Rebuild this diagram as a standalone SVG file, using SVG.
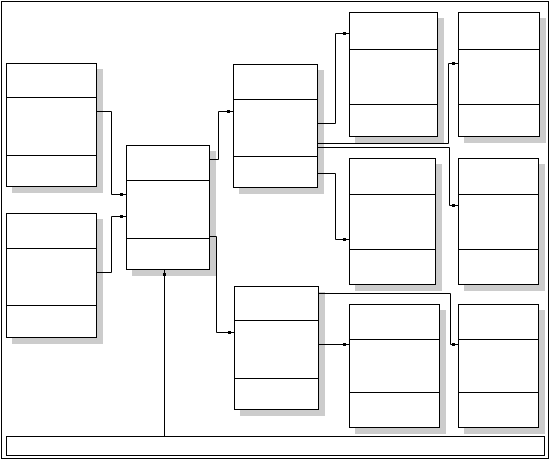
<svg xmlns="http://www.w3.org/2000/svg" width="549" height="459" viewBox="0 0 549 459">
<style>
.box{fill:#fff;stroke:#000;stroke-width:1}
.sh{fill:#cccccc}
.div{stroke:#000;stroke-width:1;fill:none}
.conn path{fill:none;stroke:#000;stroke-width:1;marker-end:url(#m)}
.frame{fill:#fff;stroke:#000;stroke-width:1}
</style>
<defs>
<marker id="m" markerUnits="userSpaceOnUse" markerWidth="10" markerHeight="6" refX="8" refY="3" orient="auto">
<rect x="1.5" y="1.5" width="3" height="3" fill="#000"/>
</marker>
</defs>
<rect class="frame" x="1.5" y="1.5" width="547" height="457"/>
<g id="A"><rect class="sh" x="12" y="69" width="91" height="124"/><rect class="box" x="6.5" y="63.5" width="90" height="123"/><path class="div" d="M6.5 97.5H96.5M6.5 155.5H96.5"/></g>
<g id="B"><rect class="sh" x="12" y="219" width="91" height="125"/><rect class="box" x="6.5" y="213.5" width="90" height="124"/><path class="div" d="M6.5 248.5H96.5M6.5 305.5H96.5"/></g>
<g id="C"><rect class="sh" x="132" y="151" width="84" height="125"/><rect class="box" x="126.5" y="145.5" width="83" height="124"/><path class="div" d="M126.5 180.5H209.5M126.5 238.5H209.5"/></g>
<g id="D"><rect class="sh" x="239" y="70" width="85" height="124"/><rect class="box" x="233.5" y="64.5" width="84" height="123"/><path class="div" d="M233.5 99.5H317.5M233.5 156.5H317.5"/></g>
<g id="E"><rect class="sh" x="355" y="18" width="89" height="125"/><rect class="box" x="349.5" y="12.5" width="88" height="124"/><path class="div" d="M349.5 49.5H437.5M349.5 104.5H437.5"/></g>
<g id="F"><rect class="sh" x="464" y="18" width="82" height="125"/><rect class="box" x="458.5" y="12.5" width="81" height="124"/><path class="div" d="M458.5 49.5H539.5M458.5 104.5H539.5"/></g>
<g id="G"><rect class="sh" x="355" y="164" width="87" height="127"/><rect class="box" x="349.5" y="158.5" width="86" height="126"/><path class="div" d="M349.5 194.5H435.5M349.5 249.5H435.5"/></g>
<g id="H"><rect class="sh" x="464" y="164" width="81" height="127"/><rect class="box" x="458.5" y="158.5" width="80" height="126"/><path class="div" d="M458.5 194.5H538.5M458.5 249.5H538.5"/></g>
<g id="I"><rect class="sh" x="240" y="292" width="85" height="124"/><rect class="box" x="234.5" y="286.5" width="84" height="123"/><path class="div" d="M234.5 320.5H318.5M234.5 378.5H318.5"/></g>
<g id="J"><rect class="sh" x="355" y="310" width="91" height="124"/><rect class="box" x="349.5" y="304.5" width="90" height="123"/><path class="div" d="M349.5 339.5H439.5M349.5 392.5H439.5"/></g>
<g id="K"><rect class="sh" x="464" y="310" width="81" height="124"/><rect class="box" x="458.5" y="304.5" width="80" height="123"/><path class="div" d="M458.5 339.5H538.5M458.5 392.5H538.5"/></g>
<g id="bar"><rect class="box" x="6.5" y="436.5" width="538" height="19"/></g>
<g id="connectors" class="conn">
<path d="M96.5 111.5H111.5V194.5H126.5"/>
<path d="M96.5 272.5H111.5V216.5H126.5"/>
<path d="M209.5 159.5H218.5V111.5H233.5"/>
<path d="M209.5 236.5H216.5V332.5H234.5"/>
<path d="M317.5 123.5H335.5V33.5H349.5"/>
<path d="M317.5 143.5H448.5V63.5H458.5"/>
<path d="M317.5 147.5H449.5V205.5H458.5"/>
<path d="M317.5 173.5H335.5V239.5H349.5"/>
<path d="M318.5 344.5H349.5"/>
<path d="M318.5 293.5H450.5V344.5H458.5"/>
<path d="M164.5 436.5V269.5"/>
</g>
</svg>
